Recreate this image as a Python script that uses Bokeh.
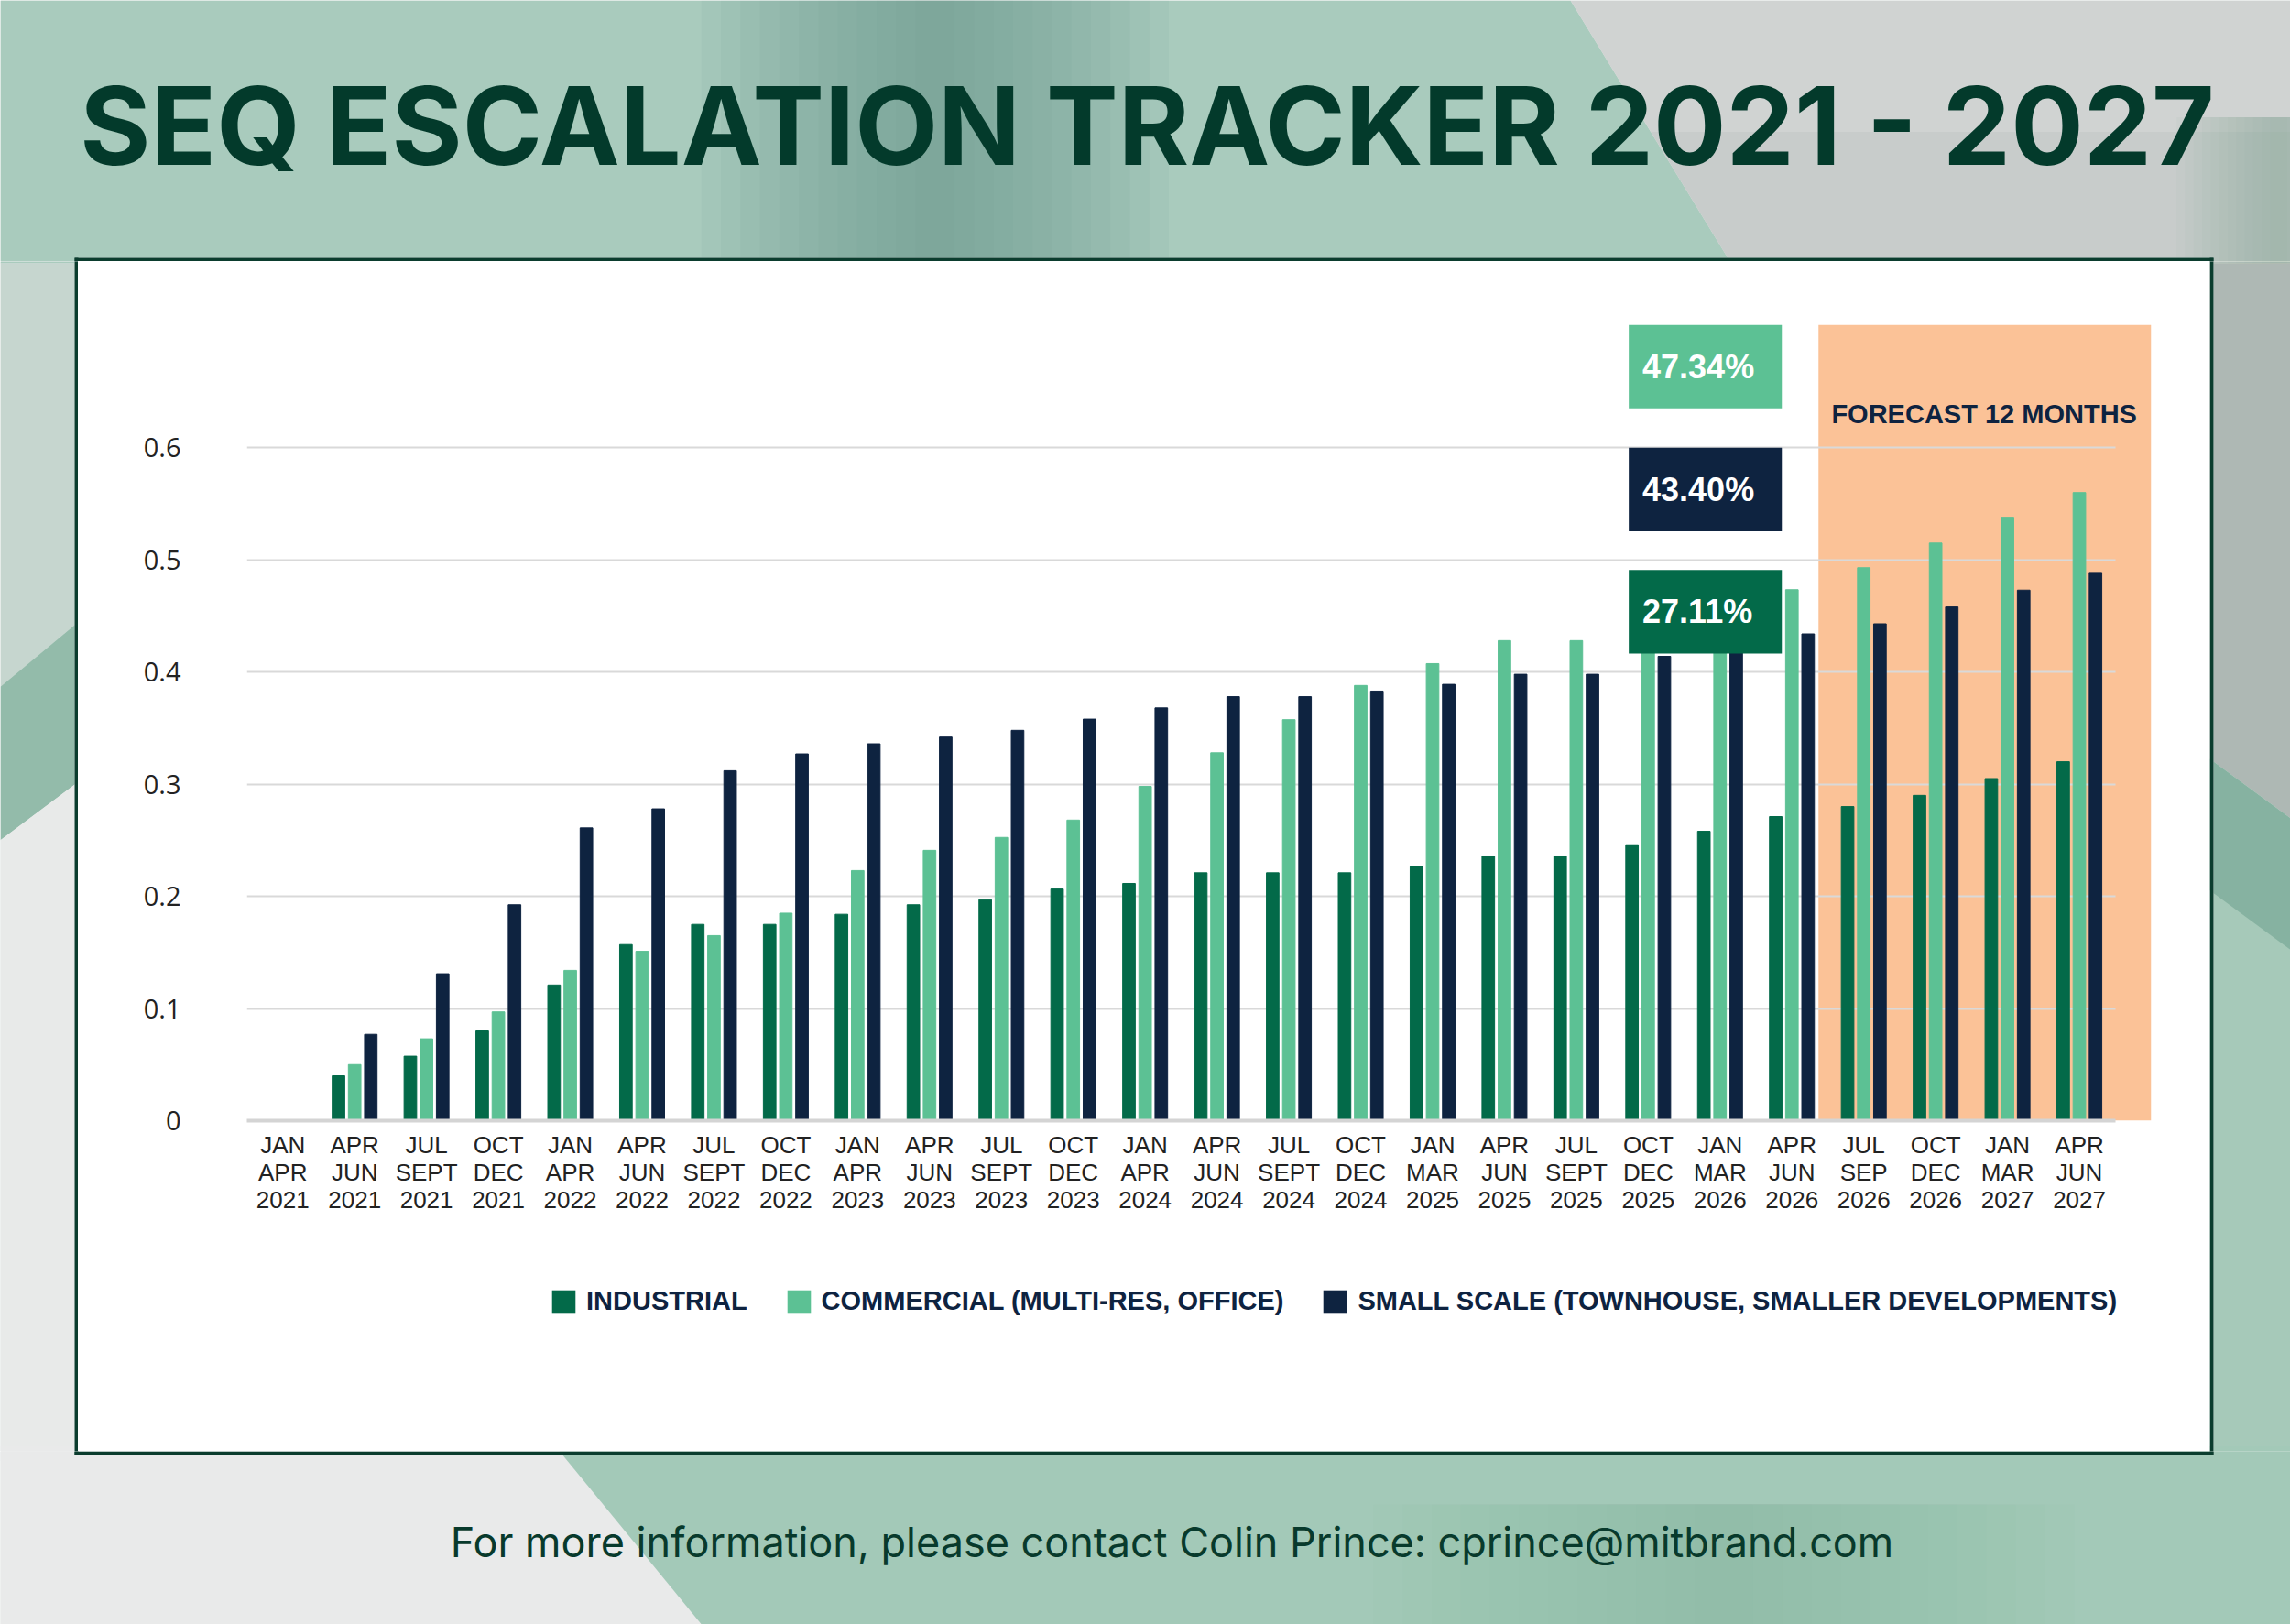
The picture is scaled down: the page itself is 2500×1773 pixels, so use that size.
from bokeh.embed import file_html
from bokeh.layouts import column, row
from bokeh.models import BoxAnnotation, ColumnDataSource, FixedTicker, Grid, Label, Range1d
from bokeh.plotting import figure
from bokeh.resources import INLINE
from bokeh.transform import dodge

# quarters shown on the x axis
periods = [
    "JAN\nAPR\n2021", "APR\nJUN\n2021", "JUL\nSEPT\n2021", "OCT\nDEC\n2021",
    "JAN\nAPR\n2022", "APR\nJUN\n2022", "JUL\nSEPT\n2022", "OCT\nDEC\n2022",
    "JAN\nAPR\n2023", "APR\nJUN\n2023", "JUL\nSEPT\n2023", "OCT\nDEC\n2023",
    "JAN\nAPR\n2024", "APR\nJUN\n2024", "JUL\nSEPT\n2024", "OCT\nDEC\n2024",
    "JAN\nMAR\n2025", "APR\nJUN\n2025", "JUL\nSEPT\n2025", "OCT\nDEC\n2025",
    "JAN\nMAR\n2026", "APR\nJUN\n2026", "JUL\nSEP\n2026", "OCT\nDEC\n2026",
    "JAN\nMAR\n2027", "APR\nJUN\n2027",
]

industrial = [0, 0.040, 0.0575, 0.080, 0.121, 0.157, 0.175, 0.175, 0.184, 0.1925,
              0.197, 0.2065, 0.2115, 0.221, 0.221, 0.221, 0.2265, 0.236, 0.236, 0.246,
              0.258, 0.2711, 0.280, 0.290, 0.305, 0.320]
commercial = [0, 0.050, 0.073, 0.097, 0.134, 0.151, 0.165, 0.185, 0.223, 0.241,
              0.2525, 0.268, 0.298, 0.328, 0.3575, 0.388, 0.4075, 0.428, 0.428, 0.450,
              0.462, 0.4734, 0.493, 0.515, 0.538, 0.560]
small_scale = [0, 0.077, 0.131, 0.1925, 0.261, 0.278, 0.312, 0.327, 0.336, 0.342,
               0.348, 0.358, 0.368, 0.378, 0.378, 0.383, 0.389, 0.398, 0.398, 0.414,
               0.425, 0.434, 0.443, 0.458, 0.473, 0.488]

series_names = ["INDUSTRIAL", "COMMERCIAL (MULTI-RES, OFFICE)",
                "SMALL SCALE (TOWNHOUSE, SMALLER DEVELOPMENTS)"]
colors = ["#036a49", "#5cc194", "#0e2340"]

y_ticks = [0, 0.1, 0.2, 0.3, 0.4, 0.5, 0.6]
y_labels = ["0", "0.1", "0.2", "0.3", "0.4", "0.5", "0.6"]

callouts = ["47.34%", "43.40%", "27.11%"]
callout_colors = ["#5cc194", "#0e2340", "#036a49"]

title_text = "SEQ ESCALATION TRACKER 2021 - 2027"
footer_text = "For more information, please contact Colin Prince: cprince@mitbrand.com"
forecast_text = "FORECAST 12 MONTHS"

BASE = "#e4e7e6"
PANEL_LINE = "#0b3d2e"
S = 2500 / 1568

# background shapes (points in the 1568px view), colour, alpha
background = [
    ([(0, 0), (1075, 0), (1185, 180), (0, 180)], "#a9cbbd", 1.0),
    ([(1075, 0), (1568, 0), (1568, 180), (1185, 180)], "#d0d3d2", 1.0),
    ([(1130, 90), (1568, 90), (1568, 180), (1185, 180)], "#bcc3c0", 0.4),
    ([(0, 180), (60, 180), (60, 420), (0, 470)], "#c6d6cf", 1.0),
    ([(0, 470), (60, 420), (60, 530), (0, 575)], "#93bbaa", 1.0),
    ([(0, 575), (60, 530), (60, 1000), (0, 1000)], "#e8eae9", 1.0),
    ([(1500, 180), (1568, 180), (1568, 560), (1500, 510)], "#aeb8b4", 1.0),
    ([(1500, 510), (1568, 560), (1568, 1000), (1500, 1000)], "#a6c9b9", 1.0),
    ([(1500, 510), (1568, 560), (1568, 650), (1500, 600)], "#86b2a1", 1.0),
    ([(0, 990), (400, 990), (480, 1112), (0, 1112)], "#e9eaea", 1.0),
    ([(380, 990), (1568, 990), (1568, 1112), (480, 1112)], "#a3c9b8", 1.0),
]

# soft vertical bands: x centre, half width, y from, y to, colour, step alpha
soft_bands = [
    (640, 160, 0, 180, "#6f9e8e", 0.09),
    (1560, 70, 80, 180, "#8aa39b", 0.06),
    (1180, 240, 1030, 1112, "#7fb29d", 0.04),
]

# white panel, in picture pixels
panel_left, panel_right, panel_top, panel_bottom, edge = 81, 2416, 281, 1588, 4


def deco(x0, x1, y0, y1):
    f = figure(width=x1 - x0, height=y1 - y0, x_range=Range1d(x0, x1), y_range=Range1d(y1, y0),
               x_axis_type=None, y_axis_type=None, min_border=0,
               output_backend="svg", toolbar_location=None)
    f.outline_line_color = None
    f.background_fill_color = BASE
    f.border_fill_color = BASE
    for pts, col, a in background:
        f.patch([u * S for u, _ in pts], [v * S for _, v in pts],
                fill_color=col, fill_alpha=a, line_color=None)
    for xc, hw, ya, yb, col, a in soft_bands:
        n = 12
        for k in range(n):
            w = hw * (n - k) / n
            f.quad(left=(xc - w) * S, right=(xc + w) * S, top=ya * S, bottom=yb * S,
                   fill_color=col, fill_alpha=a, line_color=None)
    f.quad(left=panel_left, right=panel_right, top=panel_top, bottom=panel_bottom,
           fill_color="white", line_color=None)
    for l, r, t, b in [(panel_left, panel_right, panel_top, panel_top + edge),
                       (panel_left, panel_right, panel_bottom - edge, panel_bottom),
                       (panel_left, panel_left + edge, panel_top, panel_bottom),
                       (panel_right - edge, panel_right, panel_top, panel_bottom)]:
        f.quad(left=l, right=r, top=t, bottom=b, fill_color=PANEL_LINE, line_color=None)
    return f


top_fig = deco(0, 2500, 0, panel_top + edge)
top_fig.add_layout(Label(x=1252, y=136, text=title_text, text_color="#033a2b",
                         text_font="Inter", text_font_style="bold", text_font_size="118px",
                         text_align="center", text_baseline="alphabetic"))

bottom_fig = deco(0, 2500, panel_bottom - edge, 1773)
bottom_fig.add_layout(Label(x=1279, y=1683, text=footer_text, text_color="#083a2c",
                            text_font="Inter", text_font_size="45px",
                            text_align="center", text_baseline="alphabetic"))

left_fig = deco(0, panel_left + edge, panel_top + edge, panel_bottom - edge)
right_fig = deco(panel_right - edge, 2500, panel_top + edge, panel_bottom - edge)

# chart
inner_w = panel_right - panel_left - 2 * edge   # 2327
chart_h = 1390 - (panel_top + edge)             # 1105
legend_h = (panel_bottom - edge) - 1390         # 194

source = ColumnDataSource(dict(x=list(range(len(periods))), industrial=industrial,
                               commercial=commercial, small=small_scale))

p = figure(width=inner_w, height=chart_h, x_range=Range1d(-0.5, 26.0), y_range=Range1d(0, 0.7096),
           output_backend="svg", toolbar_location=None,
           min_border_left=184, min_border_right=64, min_border_top=69, min_border_bottom=167)
p.border_fill_color = "white"
p.background_fill_color = "white"
p.outline_line_color = None

p.add_layout(BoxAnnotation(left=21.37, right=26.0, bottom=0, top=0.7096,
                           fill_color="#fbc297", fill_alpha=1, line_color=None, level="image"))

bars = [("industrial", -0.225), ("commercial", 0.0), ("small", 0.225)]
for (col_name, off), col in zip(bars, colors):
    p.vbar(x=dodge("x", off), top=col_name, width=0.175, source=source, color=col)

p.xgrid.visible = False
p.ygrid.ticker = FixedTicker(ticks=y_ticks)
p.ygrid.grid_line_color = "#d9d9d9"
p.ygrid.grid_line_width = 2
if "cross_bounds" in Grid.properties():
    p.ygrid.cross_bounds = (-0.5, 25.5)

xa = p.xaxis[0]
xa.ticker = FixedTicker(ticks=list(range(len(periods))))
xa.major_label_overrides = {i: lab for i, lab in enumerate(periods)}
xa.bounds = (-0.5, 25.5)
xa.axis_line_color = "#d4d4d4"
xa.axis_line_width = 4
xa.major_tick_line_color = None
xa.minor_tick_line_color = None
xa.major_label_standoff = 5
xa.major_label_text_font = "Liberation Sans"
xa.major_label_text_font_size = "26px"
xa.major_label_text_color = "#222222"
xa.major_label_text_line_height = 1.0

ya = p.yaxis[0]
ya.ticker = FixedTicker(ticks=y_ticks)
ya.major_label_overrides = dict(zip(y_ticks, y_labels))
ya.axis_line_color = None
ya.major_tick_line_color = None
ya.minor_tick_line_color = None
ya.major_tick_out = 0
ya.major_label_standoff = 72
ya.major_label_text_font = "Open Sans"
ya.major_label_text_font_size = "29px"
ya.major_label_text_color = "#222222"

box_tops = [0.7096, 0.600, 0.491]
for txt, col, top in zip(callouts, callout_colors, box_tops):
    p.add_layout(BoxAnnotation(left=18.73, right=20.86, top=top, bottom=top - 0.0746,
                               fill_color=col, fill_alpha=1, line_color=None))
    p.add_layout(Label(x=18.92, y=top - 0.0373, text=txt, text_color="white",
                       text_font="Liberation Sans", text_font_style="bold",
                       text_font_size="36px", text_baseline="middle", level="overlay"))

p.add_layout(Label(x=21.55, y=0.630, text=forecast_text, text_color="#0e2340",
                   text_font="Liberation Sans", text_font_style="bold", text_font_size="29px",
                   text_baseline="middle", level="overlay"))

# legend strip under the chart (its frame lines up with the chart frame);
# the renderers here sit outside its ranges, only their legend swatches show
lf = figure(width=inner_w, height=legend_h, x_range=Range1d(100, 101), y_range=Range1d(5, 6),
            x_axis_type=None, y_axis_type=None, min_border=0,
            output_backend="svg", toolbar_location=None)
lf.outline_line_color = None
lf.background_fill_color = "white"
lf.border_fill_color = "white"
for (col_name, off), name, col in zip(bars, series_names, colors):
    lf.vbar(x=dodge("x", off), top=col_name, width=0.175, source=source, fill_color=col,
            line_color=None, legend_label=name)
lg = lf.legend[0]
lg.orientation = "horizontal"
lg.location = (330, 147)
lg.glyph_width = 32
lg.glyph_height = 32
lg.label_standoff = 9
lg.spacing = 40
lg.padding = 0
lg.margin = 0
lg.border_line_color = None
lg.background_fill_alpha = 0
lg.label_text_font = "Liberation Sans"
lg.label_text_font_style = "bold"
lg.label_text_font_size = "29px"
lg.label_text_color = "#0e2340"

layout = column(top_fig, row(left_fig, column(p, lf), right_fig), bottom_fig)

open("out.html", "w").write(file_html(layout, INLINE))
